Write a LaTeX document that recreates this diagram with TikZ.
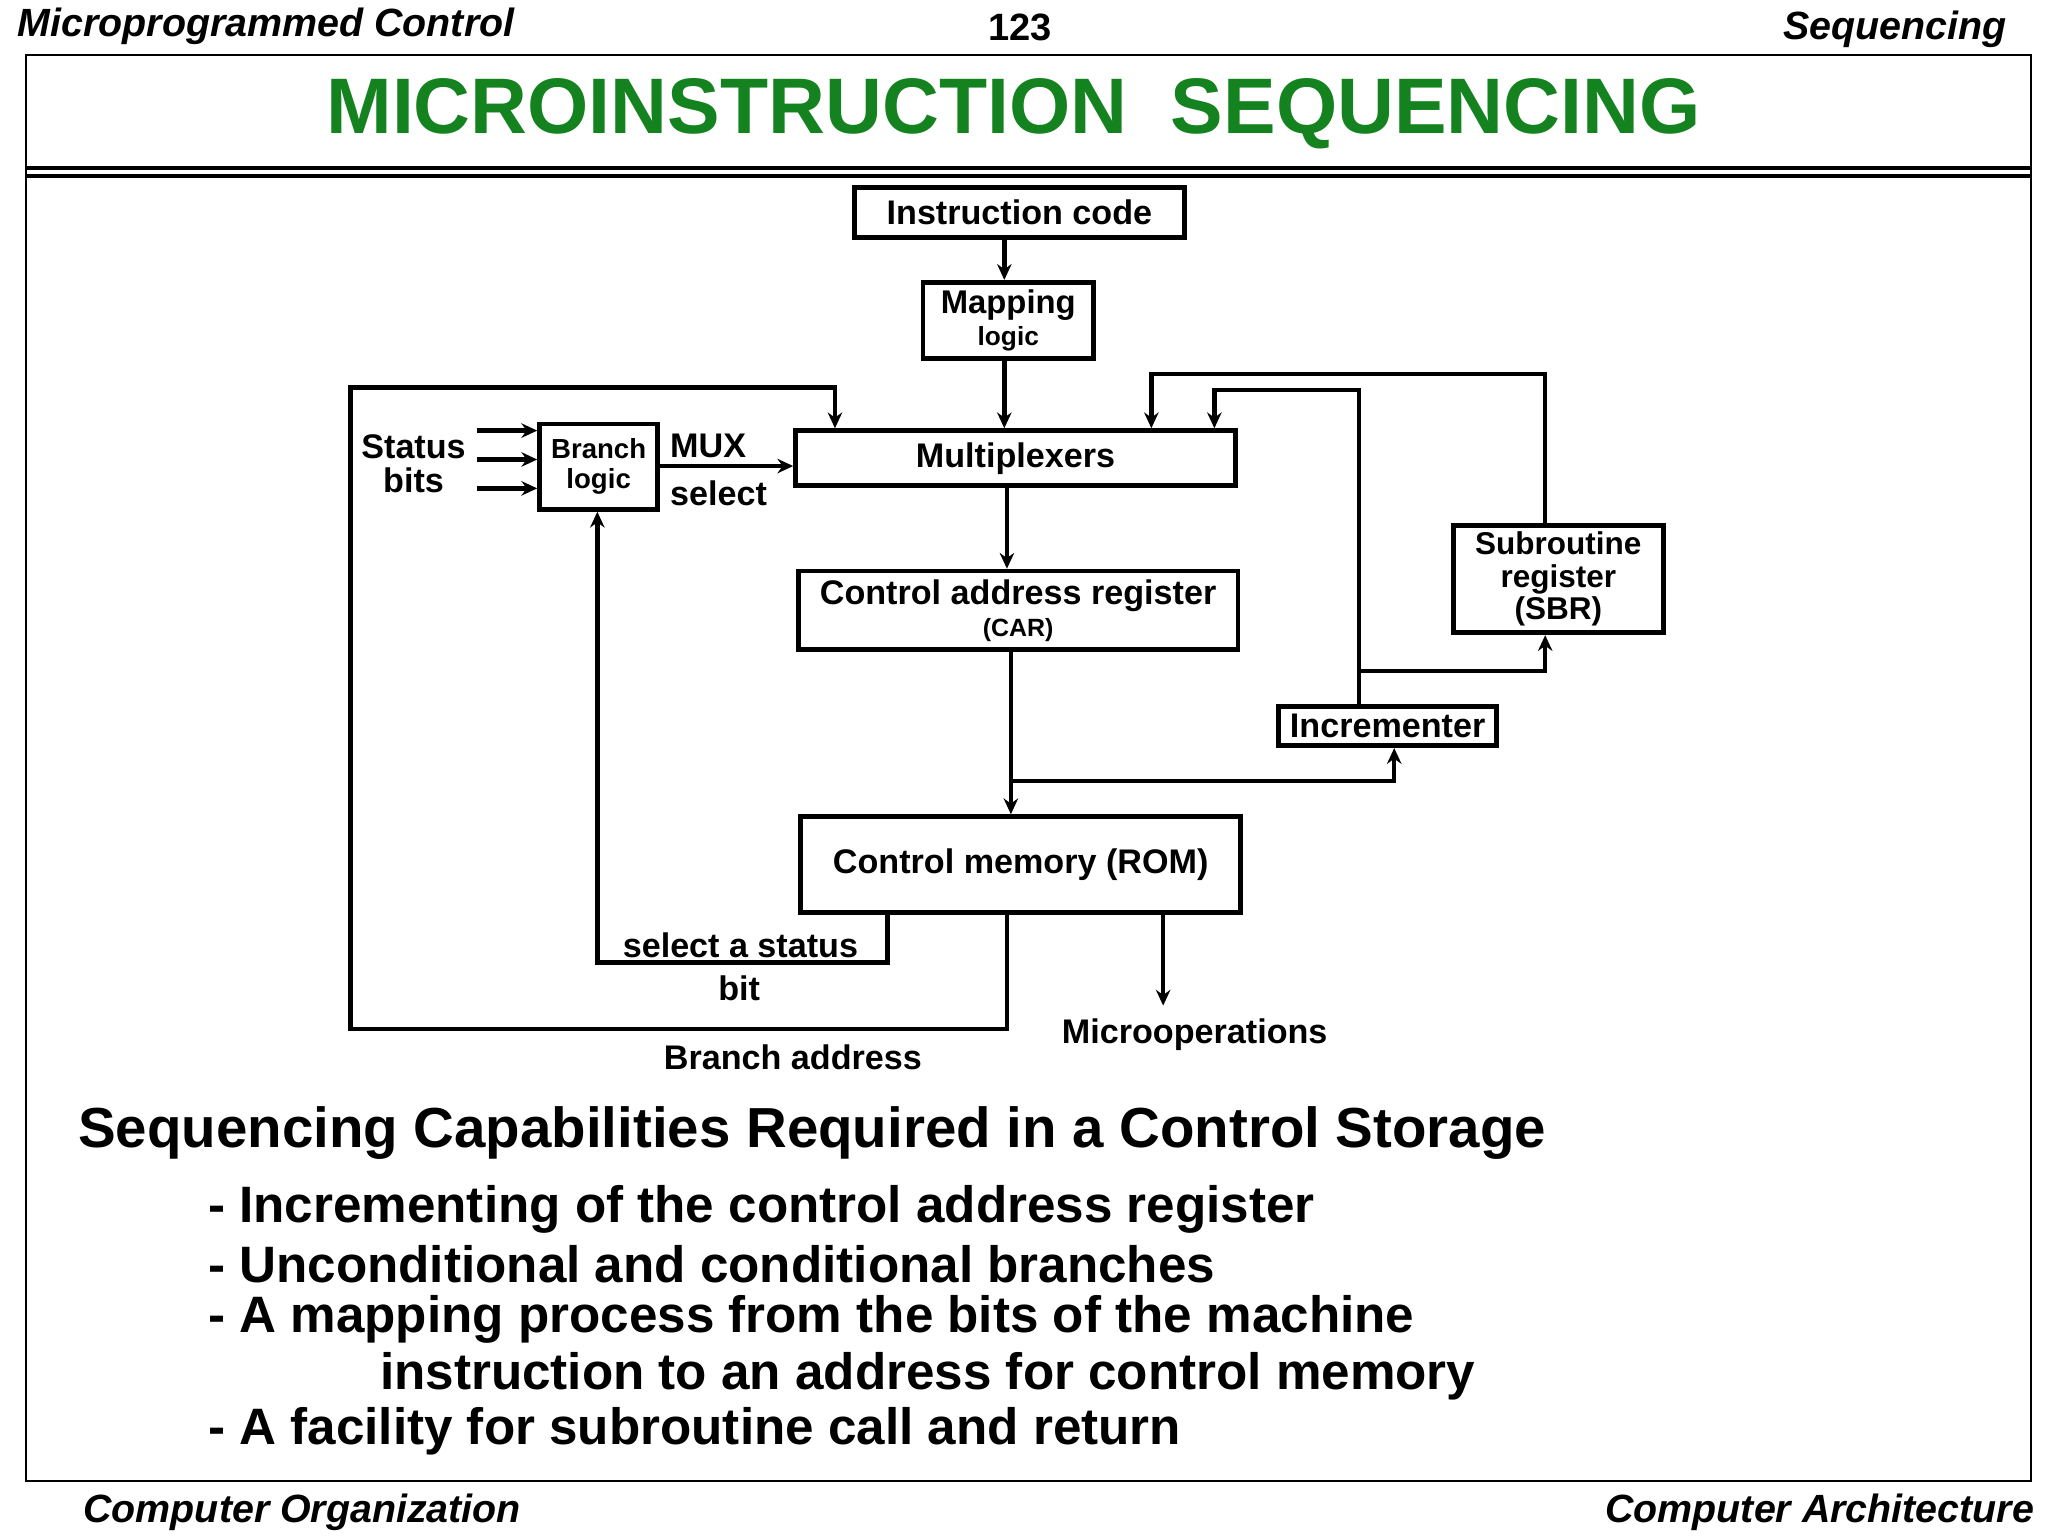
\documentclass[tikz,border=0pt]{standalone}
\usepackage{fontspec}
\setmainfont{Liberation Sans}
\usetikzlibrary{arrows.meta}
\definecolor{titlegreen}{RGB}{20,130,30}
\begin{document}
\begin{tikzpicture}[x=1pt,y=-1pt,
  box/.style={draw,line width=3.6pt,inner sep=0pt},
  wire/.style={line width=3.4pt},
  arr/.style={wire,-{Stealth[length=12pt,width=11pt]}},
  lbl/.style={font=\fontsize{26}{26}\selectfont\bfseries},
  sml/.style={font=\fontsize{21}{21}\selectfont\bfseries,align=center},
  big/.style={font=\fontsize{39}{42}\selectfont\bfseries,anchor=west},
  hdr/.style={font=\fontsize{30}{30}\selectfont\bfseries\itshape}]
\useasboundingbox (0,0) rectangle (1560,1170);
% frame and header
\draw[line width=1.4pt] (20,42) rectangle (1547,1128);
\draw[line width=3pt] (20,128) -- (1547,128);
\draw[line width=3pt] (20,134) -- (1547,134);
\node[hdr,anchor=west] (h1) at (10,20) {Microprogrammed Control};
\node[font=\fontsize{29}{29}\selectfont\bfseries] (h2) at (777,21) {123};
\node[hdr,anchor=east] (h3) at (1532,22) {Sequencing};
\node[font=\fontsize{60}{60}\selectfont\bfseries,text=titlegreen] (title) at (772,87) {MICROINSTRUCTION\ \ SEQUENCING};
% boxes
\node[box,lbl,minimum width=251pt,minimum height=38pt] (ic) at (776.5,162) {Instruction code};
\node[box,minimum width=130pt,minimum height=58pt,align=center,font=\fontsize{25}{24}\selectfont\bfseries] (map) at (768,244) {Mapping\\{\fontsize{20}{20}\selectfont logic}};
\node[box,lbl,minimum width=335pt,minimum height=42pt] (mux) at (773.5,349) {Multiplexers};
\node[box,sml,minimum width=90pt,minimum height=65pt] (bl) at (456,355.5) {Branch\\[2pt]logic};
\node[box,minimum width=335pt,minimum height=60pt,align=center,font=\fontsize{26}{24}\selectfont\bfseries] (car) at (775.5,465) {Control address register\\{\fontsize{19}{19}\selectfont (CAR)}};
\node[box,minimum width=160pt,minimum height=82pt,align=center,font=\fontsize{24}{25}\selectfont\bfseries] (sbr) at (1187,441) {Subroutine\\register\\(SBR)};
\node[box,lbl,minimum width=166pt,minimum height=30pt] (inc) at (1057,553) {Incrementer};
\node[box,lbl,minimum width=335pt,minimum height=73pt] (rom) at (777.5,658.5) {Control memory (ROM)};
% labels
\node[lbl,align=center] (st) at (315,353) {Status\\bits};
\node[lbl,anchor=west] (muxl) at (507,340) {MUX};
\node[lbl,anchor=west] (sell) at (507,376) {select};
\node[lbl] (ssel) at (564,720) {select a status};
\node[lbl] (sbit) at (563,753) {bit};
\node[lbl] (badr) at (604,805) {Branch address};
\node[lbl] (micro) at (910,788) {Microoperations};
% status inputs
\foreach \yy/\nm in {328/a,350/b,372/c}{
  \coordinate (s\nm) at (363,\yy);
  \draw[arr] (s\nm) -- (s\nm -| bl.west);}
\draw[arr] (bl.east |- 0,355) -- (mux.west |- 0,355);
% main path
\draw[arr] (ic.south -| 765,0) -- (map.north -| 765,0);
\draw[arr] (map.south -| 765,0) -- (mux.north -| 765,0);
\draw[arr] (mux.south -| 767,0) -- (car.north -| 767,0);
\draw[arr] (car.south -| 770,0) -- (rom.north -| 770,0);
\coordinate (j1) at (770,595);
\draw[arr] (j1) -- (1062,595) -- (inc.south -| 1062,0);
% incrementer feedback
\draw[arr] (inc.north -| 1035,0) -- (1035,297) -- (925,297) -- (mux.north -| 925,0);
\coordinate (j2) at (1035,511);
\draw[arr] (j2) -- (1177,511) -- (sbr.south -| 1177,0);
% SBR return
\draw[arr] (sbr.north -| 1177,0) -- (1177,285) -- (877,285) -- (mux.north -| 877,0);
% branch address
\draw[arr] (rom.south -| 767,0) -- (767,784) -- (267,784) -- (267,295) -- (636,295) -- (mux.north -| 636,0);
% select a status
\draw[arr] (rom.south -| 676,0) -- (676,733) -- (455,733) -- (bl.south -| 455,0);
% microoperations
\draw[arr] (rom.south -| 886,0) -- (886,766);
% text block
\node[big,font=\fontsize{43}{46}\selectfont\bfseries] (t0) at (56,863) {Sequencing Capabilities Required in a Control Storage};
\node[big] (t1) at (155,921) {- Incrementing of the control address register};
\node[big] (t2) at (155,963) {- Unconditional and conditional branches};
\node[big] (t3) at (155,1005) {- A mapping process from the bits of the machine};
\node[big] (t4) at (286,1048) {instruction to an address for control memory};
\node[big] (t5) at (155,1090) {- A facility for subroutine call and return};
% footer
\node[hdr,anchor=west] (f1) at (60,1152) {Computer Organization};
\node[hdr,anchor=east] (f2) at (1553,1152) {Computer Architecture};
\end{tikzpicture}
\end{document}
